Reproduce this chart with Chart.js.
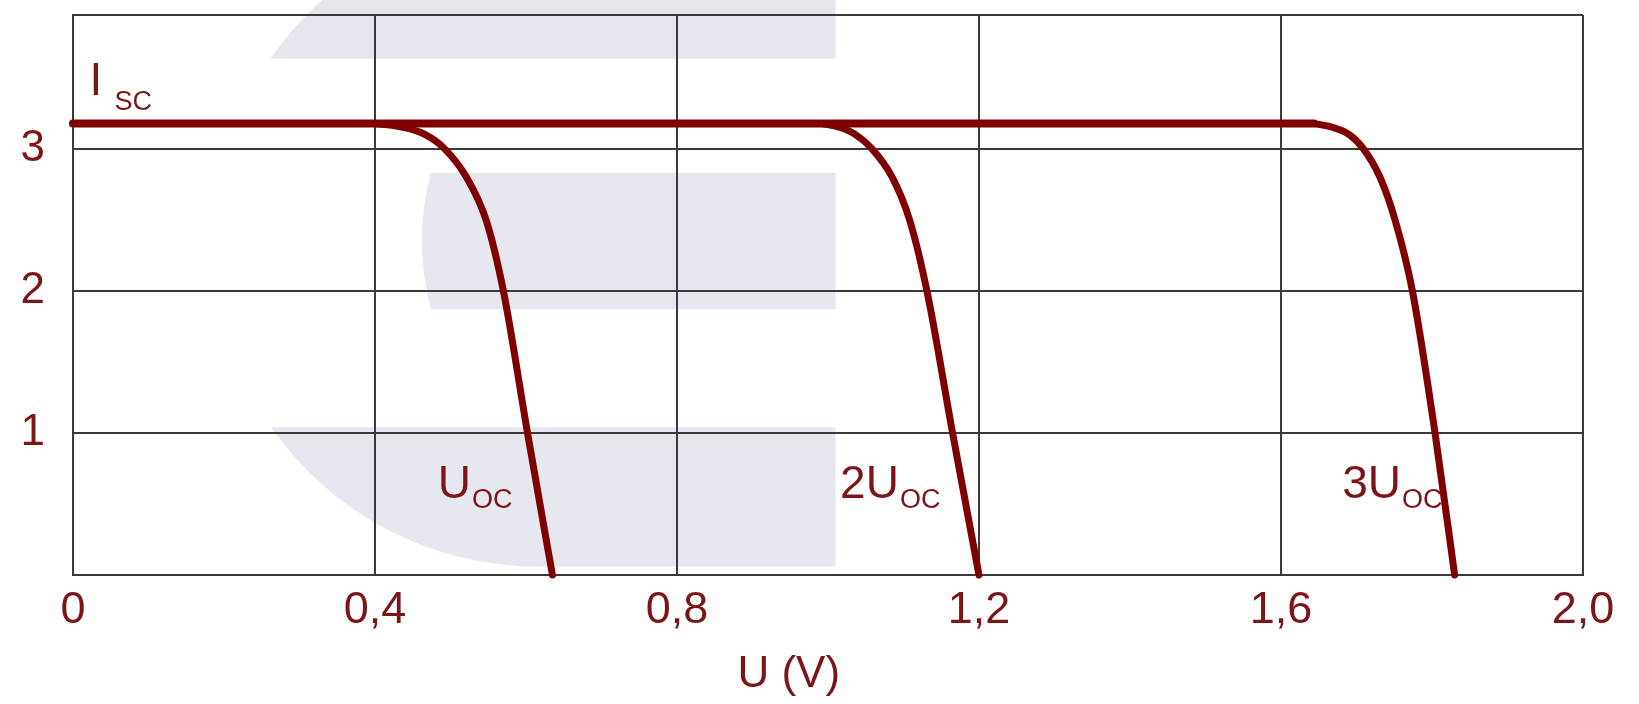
<!DOCTYPE html>
<html>
<head>
<meta charset="utf-8">
<script src="https://cdn.jsdelivr.net/npm/chart.js@4/dist/chart.umd.min.js"></script>
<style>
  html, body { margin: 0; padding: 0; background: #fff; }
  #wrap { width: 1639px; height: 704px; position: relative; }
</style>
</head>
<body>
<div id="wrap"><canvas id="chart"></canvas></div>
<script>
// axis ticks
const xTickValues = [0, 0.4, 0.8, 1.2, 1.6, 2.0];
const xTickLabels = ['0', '0,4', '0,8', '1,2', '1,6', '2,0'];
const yTickValues = [0, 1, 2, 3, 3.94];
const yTickLabels = ['', '1', '2', '3', ''];

// short-circuit current line
const iscU = [0, 1.644];
const iscI = [3.176, 3.176];

// I-U curves for 1, 2 and 3 cells in series
const curveI = [3.176, 3.15, 3.10, 3.00, 2.80, 2.50, 2.00, 1.00, 0];
const curve1U = [0.400, 0.437, 0.466, 0.492, 0.521, 0.547, 0.570, 0.602, 0.635];
const curve2U = [0.992, 1.015, 1.036, 1.058, 1.085, 1.108, 1.131, 1.165, 1.200];
const curve3U = [1.644, 1.668, 1.690, 1.709, 1.731, 1.751, 1.774, 1.804, 1.830];

// text labels in the plot
const labelMain = ['I', 'U', '2U', '3U'];
const labelSub = ['SC', 'OC', 'OC', 'OC'];
const labelU = [0.022, 0.483, 1.016, 1.681];
const labelI = [3.38, 0.54, 0.54, 0.54];

const lineColor = '#7f0000';
const textColor = '#7b1518';
const gridColor = '#3a3a3a';
const font = '"Liberation Sans", Arial, sans-serif';

const pts = (us, is) => us.map((u, i) => ({ x: u, y: is[i] }));

function curveSet(us, is, width) {
  return {
    data: pts(us, is),
    borderColor: lineColor,
    borderWidth: width,
    borderCapStyle: 'round',
    borderJoinStyle: 'round',
    pointRadius: 0,
    showLine: true,
    cubicInterpolationMode: 'monotone',
    clip: false,
  };
}

// light logo in the background, plus text labels on top
const decor = {
  id: 'decor',
  beforeDraw(chart) {
    const { ctx, scales: { x, y } } = chart;
    const px = v => x.getPixelForValue(v);
    const py = v => y.getPixelForValue(v);
    const cx = px(0.615), cy = py(2.34), r = py(0.06) - cy, right = px(1.01);
    const shape = () => {
      ctx.beginPath();
      ctx.arc(cx, cy, r, Math.PI / 2, Math.PI * 1.5);
      ctx.lineTo(right, cy - r);
      ctx.lineTo(right, cy + r);
      ctx.closePath();
      ctx.fill();
    };
    ctx.save();
    ctx.fillStyle = '#e7e7ef';
    ctx.save();
    ctx.beginPath();
    ctx.rect(0, 0, right + 1, py(3.63));
    ctx.clip();
    shape();
    ctx.restore();
    ctx.save();
    ctx.beginPath();
    ctx.rect(0, py(1.04), right + 1, 400);
    ctx.clip();
    shape();
    ctx.restore();
    const mt = py(2.83), mb = py(1.87), ml = px(0.474);
    ctx.beginPath();
    ctx.moveTo(ml, mt);
    ctx.lineTo(right, mt);
    ctx.lineTo(right, mb);
    ctx.lineTo(ml, mb);
    ctx.quadraticCurveTo(px(0.45), (mt + mb) / 2, ml, mt);
    ctx.fill();
    ctx.restore();
  },
  afterDraw(chart) {
    const { ctx, scales: { x, y }, chartArea } = chart;
    ctx.save();
    ctx.fillStyle = textColor;
    ctx.textBaseline = 'alphabetic';
    ctx.textAlign = 'left';
    labelMain.forEach((t, i) => {
      const lx = x.getPixelForValue(labelU[i]);
      const ly = y.getPixelForValue(labelI[i]);
      ctx.font = '46px ' + font;
      ctx.fillText(t, lx, ly);
      const w = ctx.measureText(t).width;
      ctx.font = '27px ' + font;
      ctx.fillText(labelSub[i], lx + w + (i === 0 ? 12 : 1), ly + (i === 0 ? 15 : 10));
    });
    ctx.font = '44px ' + font;
    ctx.textAlign = 'center';
    ctx.textBaseline = 'middle';
    ctx.fillText('U (V)', x.getPixelForValue(0.948), chartArea.bottom + 100);
    ctx.restore();
  }
};

new Chart(document.getElementById('chart'), {
  type: 'scatter',
  data: {
    datasets: [
      curveSet(iscU, iscI, 8),
      curveSet(curve1U, curveI, 7),
      curveSet(curve2U, curveI, 7),
      curveSet(curve3U, curveI, 7),
    ],
  },
  options: {
    responsive: true,
    maintainAspectRatio: false,
    animation: false,
    layout: { padding: { left: 0, top: 15, right: 56, bottom: 0 } },
    plugins: { legend: { display: false }, tooltip: { enabled: false } },
    scales: {
      x: {
        type: 'linear',
        min: 0,
        max: 2,
        afterBuildTicks: s => { s.ticks = xTickValues.map(v => ({ value: v })); },
        afterFit: s => { s.height = 129; s.paddingLeft = 0; s.paddingRight = 0; },
        grid: { color: gridColor, lineWidth: 2, drawTicks: false },
        border: { color: gridColor, width: 2 },
        ticks: {
          color: textColor,
          font: { family: font, size: 45 },
          padding: 9,
          maxRotation: 0,
          autoSkip: false,
          callback: (v, i) => xTickLabels[i],
        },
      },
      y: {
        type: 'linear',
        min: 0,
        max: 3.94,
        afterBuildTicks: s => { s.ticks = yTickValues.map(v => ({ value: v })); },
        afterFit: s => { s.width = 73; s.paddingTop = 0; s.paddingBottom = 0; },
        grid: { color: gridColor, lineWidth: 2, drawTicks: false },
        border: { color: gridColor, width: 2 },
        ticks: {
          color: textColor,
          font: { family: font, size: 44 },
          padding: 28,
          autoSkip: false,
          callback: (v, i) => yTickLabels[i],
        },
      },
    },
  },
  plugins: [decor],
});
</script>
</body>
</html>
